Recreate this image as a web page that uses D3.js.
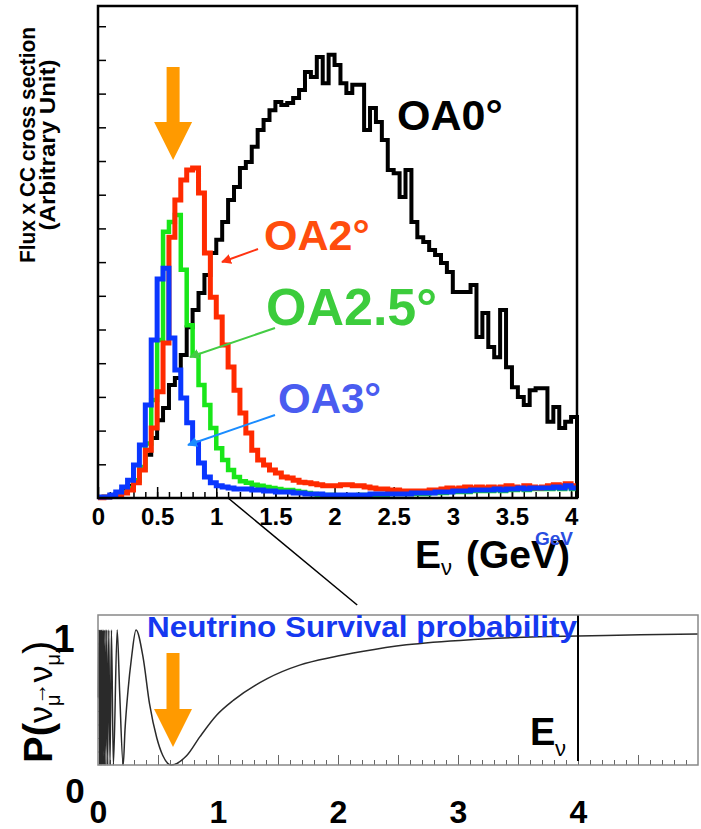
<!DOCTYPE html>
<html>
<head>
<meta charset="utf-8">
<script src="https://cdn.jsdelivr.net/npm/d3@7"></script>
<style>
  body { margin: 0; background: #fff; }
  text { font-family: "Liberation Sans", Arial, Helvetica, sans-serif; font-weight: bold; }
</style>
</head>
<body>
<div id="chart"></div>
<script>
// ---- data ----
// histogram bins: 0 .. 4.05 GeV, 0.05 GeV wide
const binStart = 0;
const binWidth = 0.05;

const oa0 = [0.03,0.03,0.03,0.09,0.24,0.36,0.50,0.83,1.28,1.78,
  2.31,2.67,3.35,3.56,4.24,5.07,5.58,6.08,6.62,7.27,
  7.66,8.19,8.84,9.23,9.79,9.97,10.42,10.92,11.22,11.51,
  11.75,11.66,11.72,11.87,12.11,12.64,12.49,13.09,12.31,13.15,
  12.85,12.31,12.02,12.26,12.26,10.92,11.57,11.16,10.62,9.73,
  9.64,8.93,9.73,8.19,7.74,7.60,7.36,7.21,6.97,6.71,
  6.11,6.11,6.11,6.32,4.78,5.49,4.48,4.18,5.58,3.88,
  3.29,3.00,2.76,3.20,3.26,3.26,2.26,2.70,2.08,2.26,
  2.40];

const oa2 = [0.01,0.03,0.06,0.09,0.15,0.24,0.45,0.83,1.42,2.08,
  3.15,4.60,7.74,8.84,9.44,9.73,9.79,9.05,7.27,5.96,
  5.37,4.54,3.89,3.20,2.52,1.93,1.42,1.13,0.98,0.83,
  0.74,0.62,0.59,0.53,0.47,0.45,0.42,0.39,0.36,0.36,
  0.36,0.39,0.39,0.36,0.36,0.33,0.30,0.27,0.27,0.24,
  0.24,0.21,0.21,0.21,0.21,0.21,0.24,0.24,0.27,0.30,
  0.27,0.30,0.33,0.30,0.33,0.30,0.33,0.30,0.33,0.36,
  0.33,0.30,0.36,0.33,0.30,0.33,0.36,0.39,0.36,0.42,
  0.36];

const oa25 = [0.01,0.03,0.06,0.12,0.18,0.30,0.53,0.92,1.62,2.91,
  4.69,7.90,8.19,8.40,6.77,5.13,4.24,3.35,2.76,2.08,
  1.48,1.13,0.83,0.62,0.50,0.45,0.39,0.36,0.33,0.30,
  0.27,0.24,0.24,0.21,0.18,0.15,0.12,0.09,0.09,0.09,
  0.06,0.06,0.06,0.06,0.09,0.09,0.09,0.09,0.09,0.12,
  0.12,0.12,0.12,0.12,0.12,0.12,0.15,0.15,0.15,0.18,
  0.18,0.18,0.18,0.21,0.21,0.21,0.21,0.24,0.21,0.24,
  0.24,0.27,0.24,0.27,0.27,0.27,0.27,0.30,0.27,0.33,
  0.27];

const oa3 = [0.03,0.03,0.09,0.18,0.33,0.53,0.98,1.57,2.76,4.69,
  6.50,6.82,4.75,3.80,2.97,2.23,1.63,1.04,0.62,0.45,
  0.36,0.33,0.30,0.27,0.27,0.27,0.24,0.24,0.21,0.21,
  0.18,0.18,0.18,0.15,0.15,0.12,0.12,0.12,0.09,0.09,
  0.09,0.09,0.09,0.09,0.09,0.09,0.12,0.12,0.12,0.12,
  0.12,0.12,0.12,0.15,0.15,0.15,0.15,0.18,0.18,0.18,
  0.21,0.21,0.21,0.24,0.24,0.24,0.24,0.27,0.24,0.27,
  0.27,0.30,0.27,0.30,0.30,0.30,0.30,0.33,0.30,0.36,
  0.30];

const topTickLabels = [0, 0.5, 1, 1.5, 2, 2.5, 3, 3.5, 4];
const leftTicks = d3.range(1, 15);

// survival probability curve points [E (GeV), P]
const survival = [
  [0.003,0.5],[0.008,1],[0.012,0],[0.017,1],[0.022,0],[0.027,1],[0.032,0],
  [0.037,1],[0.042,0],[0.047,1],[0.053,0],[0.059,1],[0.066,0],[0.073,1],
  [0.081,0],[0.09,1],[0.1,0],[0.112,1],[0.128,0],[0.16,1],[0.18,0.55],
  [0.21,0],[0.225,0.26],[0.25,0.55],[0.28,0.8],[0.317,1],[0.375,0.8],
  [0.43,0.45],[0.49,0.2],[0.54,0.07],[0.61,0],[0.74,0.07],[0.85,0.21],
  [0.99,0.37],[1.13,0.48],[1.41,0.64],[1.68,0.74],[1.96,0.8],[2.2,0.84],
  [2.57,0.89],[3.13,0.93],[3.68,0.95],[4.0,0.955],[4.52,0.965],[5.0,0.97]
];
const bottomTickLabels = [0, 1, 2, 3, 4];

const series = [
  {name: "OA0°",   values: oa0,  color: "#000000", width: 4},
  {name: "OA2.5°", values: oa25, color: "#19e619", width: 4.5},
  {name: "OA2°",   values: oa2,  color: "#ff2a00", width: 5},
  {name: "OA3°",   values: oa3,  color: "#0a37ff", width: 5}
];

// ---- layout ----
const width = 701, height = 829;
const upper = {left: 98, right: 577, top: 6, bottom: 498};
const lower = {left: 98, right: 698, top: 615, bottom: 765};

const svg = d3.select("#chart").append("svg")
  .attr("width", width)
  .attr("height", height);

svg.append("rect").attr("width", width).attr("height", height).attr("fill", "#fff");

// top panel scales
const x = d3.scaleLinear().domain([0, 4.05]).range([upper.left, upper.right]);
const y = d3.scaleLinear().domain([0, 14.6]).range([upper.bottom, upper.top]);

// axes
svg.append("g")
  .attr("transform", `translate(0,${upper.bottom})`)
  .call(d3.axisBottom(x).tickValues(d3.range(0.1, 4.05, 0.1)).tickSize(-6).tickFormat(""))
  .call(g => g.select(".domain").remove())
  .call(g => g.selectAll("line").attr("stroke", "#000").attr("stroke-width", 1.5));

svg.append("g")
  .attr("transform", `translate(0,${upper.bottom})`)
  .call(d3.axisBottom(x).tickValues(topTickLabels).tickSize(-11).tickPadding(10).tickFormat(d3.format("")))
  .call(g => g.select(".domain").remove())
  .call(g => g.selectAll("line").attr("stroke", "#000").attr("stroke-width", 1.5))
  .call(g => g.selectAll("text").attr("font-size", 24).attr("fill", "#000")
    .style("font-family", '"Liberation Sans", Arial, sans-serif').style("font-weight", "bold"));

svg.append("g")
  .attr("transform", `translate(${upper.left},0)`)
  .call(d3.axisLeft(y).tickValues(leftTicks).tickSize(-8).tickFormat(""))
  .call(g => g.select(".domain").remove())
  .call(g => g.selectAll("line").attr("stroke", "#000").attr("stroke-width", 1.5));

// histograms
const line = d3.line()
  .x(d => x(d[0]))
  .y(d => y(d[1]))
  .curve(d3.curveStepAfter);

series.forEach(s => {
  const pts = s.values.map((v, i) => [binStart + i * binWidth, v]);
  const end = binStart + s.values.length * binWidth;
  pts.push([end, s.values[s.values.length - 1]]);
  if (s.name === "OA0°") pts.push([end, 0]);
  svg.append("path")
    .attr("d", line(pts))
    .attr("fill", "none")
    .attr("stroke", s.color)
    .attr("stroke-width", s.width)
    .attr("stroke-linejoin", "miter");
});

// frame
svg.append("rect")
  .attr("x", upper.left).attr("y", upper.top)
  .attr("width", upper.right - upper.left).attr("height", upper.bottom - upper.top)
  .attr("fill", "none").attr("stroke", "#000").attr("stroke-width", 2.5);

// labels of each curve
const defs = svg.append("defs");
function marker(id, color) {
  defs.append("marker")
    .attr("id", id).attr("viewBox", "0 0 10 10")
    .attr("refX", 9).attr("refY", 5)
    .attr("markerWidth", 5).attr("markerHeight", 5)
    .attr("orient", "auto")
    .append("path").attr("d", "M0,0L10,5L0,10z").attr("fill", color);
}
marker("arRed", "#ff3311");
marker("arGreen", "#44cc44");
marker("arBlue", "#1a8cff");

svg.append("text").attr("x", 397).attr("y", 130).attr("font-size", 43).attr("fill", "#000").text("OA0°");
svg.append("text").attr("x", 264).attr("y", 250).attr("font-size", 43).attr("fill", "#ff4d0d").text("OA2°");
svg.append("text").attr("x", 266).attr("y", 325).attr("font-size", 52).attr("fill", "#3ccc3c").text("OA2.5°");
svg.append("text").attr("x", 278).attr("y", 413).attr("font-size", 42).attr("fill", "#4a5cf0").text("OA3°");

svg.append("line").attr("x1", 258).attr("y1", 249).attr("x2", 222).attr("y2", 262)
  .attr("stroke", "#ff3311").attr("stroke-width", 2).attr("marker-end", "url(#arRed)");
svg.append("line").attr("x1", 275).attr("y1", 328).attr("x2", 190).attr("y2", 357)
  .attr("stroke", "#44cc44").attr("stroke-width", 2).attr("marker-end", "url(#arGreen)");
svg.append("line").attr("x1", 275).attr("y1", 415).attr("x2", 188).attr("y2", 445)
  .attr("stroke", "#1a8cff").attr("stroke-width", 2).attr("marker-end", "url(#arBlue)");

// orange arrow
function orangeArrow(cx, yTop, yTip) {
  const shaftW = 13, headW = 38, headH = 38;
  const yHead = yTip - headH;
  svg.append("path")
    .attr("d", `M${cx - shaftW / 2},${yTop}H${cx + shaftW / 2}V${yHead}H${cx + headW / 2}L${cx},${yTip}L${cx - headW / 2},${yHead}H${cx - shaftW / 2}Z`)
    .attr("fill", "#ff9a00");
}
orangeArrow(x(0.635), 67, 160);

// y title
const yt = svg.append("g").attr("transform", "translate(35,145) rotate(-90)");
yt.append("text").attr("text-anchor", "middle").attr("font-size", 22)
  .attr("textLength", 236).attr("lengthAdjust", "spacingAndGlyphs").text("Flux x CC cross section");
yt.append("text").attr("text-anchor", "middle").attr("y", 20).attr("font-size", 22)
  .attr("textLength", 171).attr("lengthAdjust", "spacingAndGlyphs").text("(Arbitrary Unit)");

// x title
svg.append("text").attr("x", 415).attr("y", 568).attr("font-size", 39).text("E");
svg.append("text").attr("x", 441).attr("y", 575).attr("font-size", 22).style("font-weight", "normal").text("ν");
svg.append("text").attr("x", 466).attr("y", 568).attr("font-size", 39).text("(GeV)");
svg.append("text").attr("x", 535).attr("y", 545).attr("font-size", 19).attr("fill", "#2a4de0").text("GeV");

// ---- bottom panel ----
const x2 = d3.scaleLinear().domain([0, 5]).range([lower.left, lower.right]);
const y2 = d3.scaleLinear().domain([0, 1.111]).range([lower.bottom, lower.top]);

// zoom line from top axis to the bottom panel
svg.append("line")
  .attr("x1", x(1.1)).attr("y1", upper.bottom)
  .attr("x2", x2(2.16)).attr("y2", lower.top - 10)
  .attr("stroke", "#000").attr("stroke-width", 1.5);

svg.append("g")
  .attr("transform", `translate(0,${lower.bottom})`)
  .call(d3.axisBottom(x2).tickValues(d3.range(0.1, 5, 0.1)).tickSize(-5).tickFormat(""))
  .call(g => g.select(".domain").remove())
  .call(g => g.selectAll("line").attr("stroke", "#666"));
svg.append("g")
  .attr("transform", `translate(0,${lower.bottom})`)
  .call(d3.axisBottom(x2).tickValues(d3.range(0.5, 5, 0.5)).tickSize(-10).tickFormat(""))
  .call(g => g.select(".domain").remove())
  .call(g => g.selectAll("line").attr("stroke", "#666"));
svg.append("g")
  .attr("transform", `translate(0,${lower.bottom})`)
  .call(d3.axisBottom(x2).tickValues(bottomTickLabels).tickSize(0).tickPadding(35).tickFormat(d3.format("")))
  .call(g => g.select(".domain").remove())
  .call(g => g.selectAll("text").attr("font-size", 32).attr("fill", "#000")
    .style("font-family", '"Liberation Sans", Arial, sans-serif').style("font-weight", "bold"));

svg.append("g")
  .attr("transform", `translate(${lower.left},0)`)
  .call(d3.axisLeft(y2).tickValues(d3.range(0.1, 1.1, 0.1)).tickSize(-4).tickFormat(""))
  .call(g => g.select(".domain").remove())
  .call(g => g.selectAll("line").attr("stroke", "#666"));

// survival curve
const line2 = d3.line()
  .x(d => x2(d[0]))
  .y(d => y2(d[1]))
  .curve(d3.curveMonotoneX);
svg.append("path")
  .attr("d", line2(survival))
  .attr("fill", "none")
  .attr("stroke", "#2a2a2a")
  .attr("stroke-width", 1.5);

// E = 4 marker line
svg.append("line")
  .attr("x1", x2(4)).attr("x2", x2(4))
  .attr("y1", lower.top).attr("y2", lower.bottom - 4)
  .attr("stroke", "#000").attr("stroke-width", 2);

svg.append("rect")
  .attr("x", lower.left).attr("y", lower.top)
  .attr("width", lower.right - lower.left).attr("height", lower.bottom - lower.top)
  .attr("fill", "none").attr("stroke", "#888").attr("stroke-width", 1.5);

svg.append("text")
  .attr("x", 147).attr("y", 637)
  .attr("font-size", 29).attr("fill", "#1538f0")
  .attr("textLength", 430).attr("lengthAdjust", "spacingAndGlyphs")
  .text("Neutrino Survival probability");

orangeArrow(x2(0.625), 653, 747);

svg.append("text").attr("x", 530).attr("y", 745).attr("font-size", 38).text("E");
svg.append("text").attr("x", 555).attr("y", 756).attr("font-size", 22).style("font-weight", "normal").text("ν");

// y labels of bottom panel
svg.append("text").attr("x", 75).attr("y", y2(0) + 38).attr("text-anchor", "middle").attr("font-size", 35).text("0");
svg.append("text").attr("x", 64).attr("y", y2(1) + 22).attr("text-anchor", "middle").attr("font-size", 38).text("1");

const pl = svg.append("g").attr("transform", "translate(52,763) rotate(-90)");
const pt = pl.append("text").attr("font-size", 40);
pt.append("tspan").text("P(");
pt.append("tspan").attr("font-size", 34).style("font-weight", "normal").text("ν");
pt.append("tspan").attr("font-size", 20).attr("dy", 8).style("font-weight", "normal").text("μ");
pt.append("tspan").attr("font-size", 22).attr("dy", -14).attr("dx", -10).text("→");
pt.append("tspan").attr("font-size", 34).attr("dy", 6).style("font-weight", "normal").text("ν");
pt.append("tspan").attr("font-size", 20).attr("dy", 8).style("font-weight", "normal").text("μ");
pt.append("tspan").attr("font-size", 40).attr("dy", -8).style("font-weight", "normal").text(")");
</script>
</body>
</html>
